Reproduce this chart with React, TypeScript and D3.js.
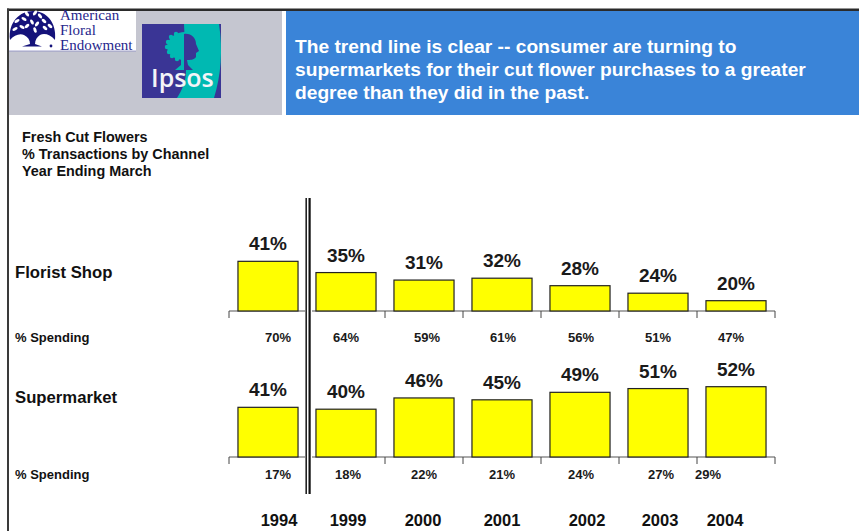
import * as d3 from "d3";

const years = ["1994", "1999", "2000", "2001", "2002", "2003", "2004"];
const floristShare = [41, 35, 31, 32, 28, 24, 20];
const supermarketShare = [41, 40, 46, 45, 49, 51, 52];
const floristSpending = [70, 64, 59, 61, 56, 51, 47];
const supermarketSpending = [17, 18, 22, 21, 24, 27, 29];
const headline = [
  "The trend line is clear -- consumer are turning to",
  "supermarkets for their cut flower purchases to a greater",
  "degree than they did in the past.",
];
const chartTitle = ["Fresh Cut Flowers", "% Transactions by Channel", "Year Ending March"];
const logoWords = ["American", "Floral", "Endowment"];

// the source slide has its text boxes hand placed, so they drift off the band centre
const floristSpendingNudge = [10, 0, 3, 1, 1, 0, -5];
const supermarketSpendingNudge = [10, 2, 0, 0, 1, 3, -28];
const yearNudge = [11, 2, -1, 0, 7, 2, -11];

const width = 859;
const height = 531;
const font = "'Liberation Sans', Arial, sans-serif";

const x = d3
  .scaleBand<string>()
  .domain(years)
  .range([229, 775])
  .paddingInner(0.23)
  .paddingOuter(0.115);

// truncated axis: bars start near 14.5%, not zero
const barHeight = d3.scaleLinear().domain([14.5, 52]).range([0, 70.3]);

const tickXs = [...years.map((y) => x(y)! - x.step() * 0.115), 775];

// logo decoration
const leaves: [number, number, number][] = [
  [27, 14, 50], [35, 13, -50], [24, 19, 30], [17, 21, -30], [32, 22, 60], [37, 24, -50],
  [44, 21, 40], [50, 26, 40], [27, 26, -40], [15, 29, -25], [22, 27, 30], [45, 28, 40],
  [35, 30, 70], [40, 16, 50],
];
const canopyBumps: [number, number][] = [
  [176, 34], [171, 37], [168, 42], [167, 47], [169, 52], [172, 56], [177, 59],
];

function Panel({
  baseline,
  share,
  spending,
  nudge,
  spendingY,
  name,
  nameY,
}: {
  baseline: number;
  share: number[];
  spending: number[];
  nudge: number[];
  spendingY: number;
  name: string;
  nameY: number;
}) {
  return (
    <g>
      <line x1={229} x2={775} y1={baseline} y2={baseline} stroke="#555" strokeWidth={1.2} />
      {tickXs.map((t) => (
        <line key={t} x1={t} x2={t} y1={baseline} y2={baseline + 7} stroke="#444" strokeWidth={1} />
      ))}
      {years.map((year, i) => {
        const h = barHeight(share[i]);
        const cx = x(year)! + x.bandwidth() / 2;
        return (
          <g key={year}>
            <rect
              x={x(year)}
              y={baseline - h}
              width={x.bandwidth()}
              height={h}
              fill="#ffff00"
              stroke="#222"
              strokeWidth={1.2}
            />
            <text
              x={cx}
              y={baseline - h - 11}
              textAnchor="middle"
              fontSize={19}
              fontWeight="bold"
              fill="#1a1a1a"
            >
              {share[i]}%
            </text>
            <text
              x={cx + nudge[i]}
              y={spendingY}
              textAnchor="middle"
              fontSize={13}
              fontWeight="bold"
              fill="#1a1a1a"
            >
              {spending[i]}%
            </text>
          </g>
        );
      })}
      <text x={15} y={nameY} fontSize={16.7} fontWeight="bold" fill="#111">
        {name}
      </text>
      <text x={15} y={spendingY} fontSize={13} fontWeight="bold" fill="#111">
        % Spending
      </text>
    </g>
  );
}

export default function App() {
  return (
    <svg
      width={width}
      height={height}
      fontFamily={font}
      style={{ position: "absolute", left: 0, top: 0, background: "#fff" }}
    >
      {/* header blocks */}
      <rect x={9} y={11} width={273} height={104} fill="#c5c6d0" />
      <rect x={286} y={11} width={573} height={104} fill="#3a84d8" />
      <rect x={7} y={8.5} width={852} height={2.5} fill="#2a2a2a" />
      <rect x={7} y={8.5} width={2} height={522.5} fill="#3a3a3a" />

      {/* American Floral Endowment logo */}
      <rect x={9} y={11} width={127} height={40} fill="#fff" />
      <line x1={9} x2={136} y1={51} y2={51} stroke="#8a8ac0" strokeWidth={0.8} />
      <g fill="#14127a">
        <path d="M10,40 C8,22 20,11 33,11 C46,11 57,22 55,40 C50,34 44,33 40,35 C37,37 35,40 35,44 L42,46.5 L22,46.5 L30,44 C30,40 28,37 24,35 C20,33 14,35 10,40 Z" />
        <circle cx={51} cy={46} r={1.4} />
      </g>
      {leaves.map(([cx, cy, a], i) => (
        <ellipse
          key={i}
          cx={cx}
          cy={cy}
          rx={2.8}
          ry={1.5}
          fill="#fff"
          transform={`rotate(${a} ${cx} ${cy})`}
        />
      ))}
      {logoWords.map((w, i) => (
        <text
          key={w}
          x={60}
          y={20 + i * 15}
          fontFamily="'Liberation Serif', serif"
          fontSize={15}
          fill="#26268c"
        >
          {w}
        </text>
      ))}

      {/* Ipsos logo */}
      <rect x={142} y={24} width={79} height={74} fill="#3a3595" />
      <path d="M184,24 L219,24 C223,50 221,76 214,98 L177,98 C182,90 186,82 186,70 L184,24 Z" fill="#00b9b2" />
      <g fill="#00b9b2">
        <path d="M185,32 C176,32 168,38 167,46 C167,54 174,60 185,60 Z" />
        <path d="M184,58 L184,70 L175,70 L181,65 L181,58 Z" />
        {canopyBumps.map(([cx, cy]) => (
          <circle key={cx + "-" + cy} cx={cx} cy={cy} r={2.2} />
        ))}
      </g>
      <path
        d="M184,34 C191,33 196,38 196,44 L199,51 L196,53 L196,57 C194,60 190,60 187,60 L188,65 L193,70 L184,70 Z"
        fill="#3a3595"
      />
      <text x={151} y={87} fontFamily="'Open Sans', sans-serif" fontSize={25} fontWeight={600} fill="#f4f4f8">
        Ipsos
      </text>

      {headline.map((line, i) => (
        <text key={line} x={295} y={53 + i * 23} fontSize={19.2} fontWeight="bold" fill="#fff">
          {line}
        </text>
      ))}

      {chartTitle.map((line, i) => (
        <text key={line} x={22} y={142 + i * 17} fontSize={14.4} fontWeight="bold" fill="#111">
          {line}
        </text>
      ))}

      <Panel
        baseline={311}
        share={floristShare}
        spending={floristSpending}
        nudge={floristSpendingNudge}
        spendingY={342}
        name="Florist Shop"
        nameY={278}
      />
      <Panel
        baseline={457}
        share={supermarketShare}
        spending={supermarketSpending}
        nudge={supermarketSpendingNudge}
        spendingY={479}
        name="Supermarket"
        nameY={403}
      />

      {/* series break between 1994 and 1999 */}
      <rect x={305} y={198} width={7} height={296} fill="#fff" />
      <line x1={306.2} x2={306.2} y1={198} y2={494} stroke="#222" strokeWidth={1.6} />
      <line x1={309.6} x2={309.6} y1={198} y2={494} stroke="#111" strokeWidth={2.2} />

      {years.map((year, i) => (
        <text
          key={year}
          x={x(year)! + x.bandwidth() / 2 + yearNudge[i]}
          y={526}
          textAnchor="middle"
          fontSize={16.5}
          fontWeight="bold"
          fill="#111"
        >
          {year}
        </text>
      ))}
    </svg>
  );
}
